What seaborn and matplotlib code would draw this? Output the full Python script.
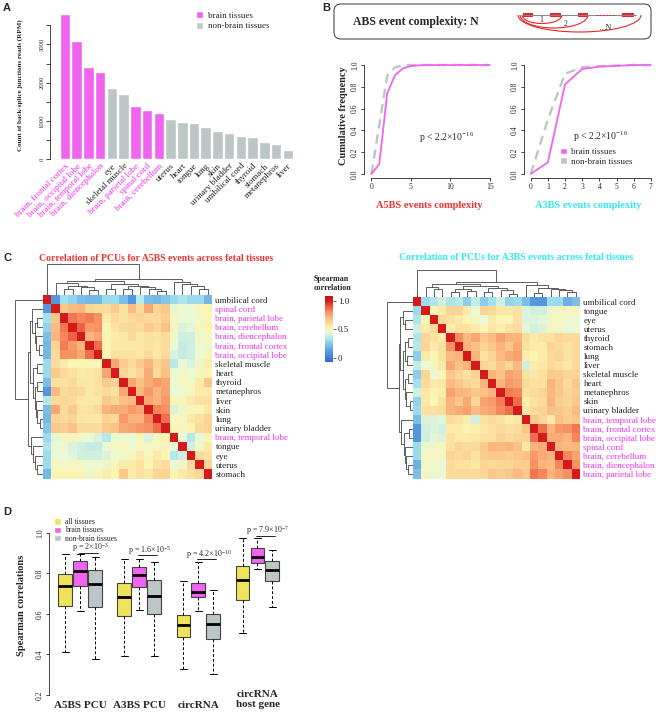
import numpy as np
import pandas as pd
import matplotlib
matplotlib.use("Agg")
import matplotlib.pyplot as plt
import seaborn as sns
from matplotlib.patches import FancyBboxPatch, Rectangle, Arc
from matplotlib.colors import LinearSegmentedColormap

# ---------------- data ----------------
bar_tissues = ["brain, frontal cortex", "brain, occipital lobe", "brain, temporal lobe",
               "brain, diencephalon", "eye", "skeletal muscle", "brain, parietal lobe",
               "spinal cord", "brain, cerebellum", "uterus", "heart", "tongue", "lung", "skin",
               "urinary bladder", "umbilical cord", "thyroid", "stomach", "metanephros", "liver"]
bar_values = [3790, 3095, 2415, 2270, 1870, 1715, 1385, 1295, 1215, 1050,
              985, 940, 850, 750, 680, 615, 575, 450, 390, 250]
bar_groups = (["brain tissues"] * 4 + ["non-brain tissues"] * 2 + ["brain tissues"] * 3
              + ["non-brain tissues"] * 11)

cdf_a5_x = list(range(16))
cdf_a5_brain = [0, 0.092, 0.74, 0.908, 0.969, 0.99, 0.997, 1, 1, 1, 1, 1, 1, 1, 1, 1]
cdf_a5_nonbrain = [0, 0.45, 0.90, 0.98, 0.995, 1, 1, 1, 1, 1, 1, 1, 1, 1, 1, 1]
cdf_a3_x = list(range(8))
cdf_a3_brain = [0, 0.107, 0.823, 0.963, 0.985, 0.992, 1, 1]
cdf_a3_nonbrain = [0, 0.50, 0.92, 0.98, 0.99, 0.995, 1, 1]

hm5_labels = ["umbilical cord", "spinal cord", "brain, parietal lobe", "brain, cerebellum",
              "brain, diencephalon", "brain, frontal cortex", "brain, occipital lobe",
              "skeletal muscle", "heart", "thyroid", "metanephros", "liver", "skin", "lung",
              "urinary bladder", "brain, temporal lobe", "tongue", "eye", "uterus", "stomach"]
hm5_upper = [
    [0.10, 0.32, 0.28, 0.22, 0.20, 0.20, 0.30, 0.30, 0.22, 0.10, 0.36, 0.22, 0.20, 0.24, 0.30, 0.34, 0.30, 0.30, 0.20],
    [0.66, 0.70, 0.72, 0.62, 0.60, 0.60, 0.65, 0.58, 0.70, 0.60, 0.75, 0.62, 0.66, 0.44, 0.46, 0.45, 0.50, 0.52],
    [0.85, 0.82, 0.84, 0.80, 0.55, 0.60, 0.58, 0.60, 0.62, 0.60, 0.60, 0.64, 0.50, 0.46, 0.45, 0.48, 0.52],
    [0.88, 0.78, 0.80, 0.52, 0.58, 0.60, 0.62, 0.60, 0.65, 0.62, 0.68, 0.50, 0.42, 0.44, 0.50, 0.52],
    [0.72, 0.75, 0.52, 0.55, 0.56, 0.60, 0.56, 0.58, 0.57, 0.60, 0.48, 0.40, 0.40, 0.48, 0.50],
    [0.86, 0.52, 0.56, 0.56, 0.56, 0.56, 0.58, 0.56, 0.60, 0.45, 0.38, 0.40, 0.46, 0.48],
    [0.52, 0.58, 0.58, 0.58, 0.56, 0.60, 0.56, 0.60, 0.42, 0.38, 0.40, 0.46, 0.50],
    [0.75, 0.65, 0.60, 0.65, 0.72, 0.62, 0.66, 0.36, 0.46, 0.42, 0.48, 0.54],
    [0.62, 0.58, 0.62, 0.74, 0.60, 0.68, 0.46, 0.48, 0.46, 0.50, 0.52],
    [0.75, 0.68, 0.74, 0.78, 0.75, 0.46, 0.50, 0.48, 0.55, 0.66],
    [0.70, 0.78, 0.72, 0.76, 0.45, 0.46, 0.50, 0.55, 0.55],
    [0.75, 0.72, 0.78, 0.52, 0.50, 0.55, 0.58, 0.58],
    [0.82, 0.80, 0.42, 0.48, 0.50, 0.52, 0.56],
    [0.86, 0.50, 0.50, 0.55, 0.58, 0.62],
    [0.52, 0.50, 0.52, 0.60, 0.62],
    [0.45, 0.35, 0.45, 0.52],
    [0.40, 0.48, 0.55],
    [0.60, 0.58],
    [0.62],
]
hm5_tree = [1.0, 0, [0.52, [0.45, [0.38, 1, [0.30, [0.20, 2, 3], [0.25, 4, [0.15, 5, 6]]]],
                            [0.36, [0.20, 7, 8], [0.30, [0.20, 9, 10], [0.25, 11, [0.20, 12, [0.12, 13, 14]]]]]],
                     [0.42, 15, [0.35, 16, [0.30, 17, [0.20, 18, 19]]]]]]

hm3_labels = ["umbilical cord", "tongue", "eye", "uterus", "thyroid", "stomach", "lung", "liver",
              "skeletal muscle", "heart", "metanephros", "skin", "urinary bladder",
              "brain, temporal lobe", "brain, frontal cortex", "brain, occipital lobe",
              "spinal cord", "brain, cerebellum", "brain, diencephalon", "brain, parietal lobe"]
hm3_upper = [
    [0.30, 0.34, 0.40, 0.34, 0.36, 0.26, 0.38, 0.26, 0.32, 0.40, 0.28, 0.30, 0.22, 0.10, 0.10, 0.30, 0.30, 0.18, 0.22],
    [0.52, 0.55, 0.62, 0.62, 0.55, 0.45, 0.62, 0.60, 0.56, 0.56, 0.58, 0.42, 0.40, 0.40, 0.46, 0.50, 0.48, 0.50],
    [0.60, 0.58, 0.55, 0.52, 0.50, 0.45, 0.55, 0.52, 0.52, 0.58, 0.42, 0.42, 0.44, 0.48, 0.50, 0.48, 0.46],
    [0.55, 0.58, 0.58, 0.55, 0.52, 0.56, 0.54, 0.58, 0.60, 0.44, 0.40, 0.42, 0.50, 0.48, 0.45, 0.46],
    [0.80, 0.70, 0.75, 0.66, 0.70, 0.76, 0.72, 0.72, 0.60, 0.55, 0.58, 0.58, 0.62, 0.60, 0.60],
    [0.72, 0.68, 0.62, 0.66, 0.72, 0.66, 0.74, 0.58, 0.55, 0.55, 0.62, 0.60, 0.58, 0.60],
    [0.72, 0.58, 0.62, 0.70, 0.74, 0.76, 0.54, 0.52, 0.55, 0.60, 0.62, 0.58, 0.60],
    [0.62, 0.60, 0.66, 0.62, 0.70, 0.40, 0.54, 0.56, 0.60, 0.58, 0.56, 0.60],
    [0.72, 0.68, 0.76, 0.74, 0.58, 0.56, 0.58, 0.65, 0.64, 0.62, 0.62],
    [0.72, 0.78, 0.76, 0.60, 0.58, 0.58, 0.72, 0.66, 0.60, 0.66],
    [0.84, 0.82, 0.58, 0.60, 0.62, 0.70, 0.66, 0.62, 0.64],
    [0.86, 0.54, 0.58, 0.60, 0.72, 0.64, 0.62, 0.66],
    [0.56, 0.60, 0.62, 0.68, 0.66, 0.64, 0.70],
    [0.66, 0.62, 0.56, 0.68, 0.64, 0.66],
    [0.86, 0.72, 0.78, 0.80, 0.85],
    [0.74, 0.74, 0.72, 0.82],
    [0.72, 0.70, 0.72],
    [0.82, 0.76],
    [0.80],
]
hm3_tree = [1.0, 0, [0.55, [0.48, [0.38, 1, [0.30, 2, 3]],
                            [0.40, [0.30, [0.20, 4, 5], [0.22, 6, 7]],
                                   [0.32, [0.20, 8, 9], [0.25, 10, [0.12, 11, 12]]]]],
                     [0.45, 13, [0.35, [0.15, 14, 15], [0.30, 16, [0.25, 17, [0.20, 18, 19]]]]]]]

box_groups = ["A5BS PCU", "A3BS PCU", "circRNA", "circRNA\nhost gene"]
box_sets = ["all tissues", "brain tissues", "non-brain tissues"]
a5bs_all = [0.413, 0.640, 0.737, 0.795, 0.896]
a5bs_brain = [0.615, 0.740, 0.813, 0.863, 0.896]
a5bs_nonbrain = [0.377, 0.636, 0.747, 0.818, 0.879]
a3bs_all = [0.390, 0.592, 0.683, 0.752, 0.870]
a3bs_brain = [0.620, 0.732, 0.792, 0.833, 0.870]
a3bs_nonbrain = [0.390, 0.600, 0.690, 0.769, 0.855]
circ_all = [0.330, 0.484, 0.544, 0.597, 0.765]
circ_brain = [0.615, 0.686, 0.709, 0.754, 0.855]
circ_nonbrain = [0.304, 0.474, 0.552, 0.600, 0.716]
host_all = [0.504, 0.668, 0.769, 0.836, 0.975]
host_brain = [0.823, 0.850, 0.881, 0.926, 0.975]
host_nonbrain = [0.635, 0.765, 0.815, 0.860, 0.916]
p_labels = ["p = 2×10$^{-3}$", "p = 1.6×10$^{-5}$", "p = 4.2×10$^{-10}$", "p = 7.9×10$^{-7}$"]

# ---------------- style ----------------
sns.set_style("ticks")
plt.rcParams["font.family"] = ["Liberation Serif", "DejaVu Serif"]
plt.rcParams["mathtext.fontset"] = "custom"
plt.rcParams["mathtext.rm"] = "Liberation Serif"
plt.rcParams["mathtext.it"] = "Liberation Serif:italic"
plt.rcParams["mathtext.bf"] = "Liberation Serif:bold"
plt.rcParams["axes.linewidth"] = 0.6

W, H = 656, 712
fig = plt.figure(figsize=(W / 100, H / 100), dpi=100)

MAG = "#f064f0"
GRY = "#bcc6c6"
YEL = "#efe35b"
LBLMAG = "#ee33ee"
RED = "#f03030"
CYA = "#33e8f0"


def px(x0, y0, x1, y1):
    return [x0 / W, 1 - y1 / H, (x1 - x0) / W, (y1 - y0) / H]


def T(x, y, s, **kw):
    kw.setdefault("ha", "center")
    kw.setdefault("va", "center")
    return fig.text(x / W, 1 - y / H, s, **kw)


def is_brain(name):
    return name.startswith("brain") or name == "spinal cord"


# overlay for decorations (pixel coords)
ov = fig.add_axes([0, 0, 1, 1])
ov.set_xlim(0, W)
ov.set_ylim(H, 0)
ov.axis("off")
ov.patch.set_alpha(0)

# panel labels
for lab, x, y in [("A", 7, 8), ("B", 326, 8), ("C", 7, 258), ("D", 7, 512)]:
    T(x, y, lab, family="Liberation Sans", fontweight="bold", fontsize=8)

# ---------------- Panel A ----------------
axA = fig.add_axes(px(50, 10, 296, 159.3))
sns.barplot(x=bar_tissues, y=bar_values, hue=bar_groups,
            palette={"brain tissues": MAG, "non-brain tissues": GRY},
            dodge=False, width=0.9, saturation=1, legend=False, ax=axA)
axA.set_ylim(0, 3900)
axA.set_xlim(-1.28, 19.7)
for s in ["top", "right", "bottom"]:
    axA.spines[s].set_visible(False)
axA.spines["left"].set_bounds(0, 3500)
yt = list(range(0, 3501, 500))
axA.set_yticks(yt)
axA.set_yticklabels([str(v) if v % 1000 == 0 else "" for v in yt])
axA.tick_params(axis="y", labelsize=4.8, length=3, width=0.6, pad=1)
for t in axA.get_yticklabels():
    t.set_rotation(90)
    t.set_va("center")
axA.set_xticks(range(len(bar_tissues)))
axA.set_xticklabels(bar_tissues, rotation=45, ha="right", rotation_mode="anchor", fontsize=6.5)
axA.tick_params(axis="x", length=0, pad=2)
for t, name in zip(axA.get_xticklabels(), bar_tissues):
    t.set_color(LBLMAG if is_brain(name) else "#222222")
axA.set_ylabel("")
axA.set_xlabel("")
T(20, 85, "Count of back-splice junctions reads (RPM)", rotation=90, fontweight="bold", fontsize=5)
hA = [Rectangle((0, 0), 1, 1, facecolor=MAG), Rectangle((0, 0), 1, 1, facecolor=GRY)]
axA.legend(hA, ["brain tissues", "non-brain tissues"], loc="upper left",
           bbox_to_anchor=(196 / W, 1 - 11 / H), bbox_transform=fig.transFigure,
           frameon=False, fontsize=6.5, handlelength=0.8, handleheight=0.8,
           handletextpad=0.5, labelspacing=0.25, borderpad=0, borderaxespad=0)

# ---------------- Panel B ----------------
ov.add_patch(FancyBboxPatch((334, 4), 317, 35, boxstyle="round,pad=0,rounding_size=7",
                            facecolor="none", edgecolor="#333333", linewidth=0.7))
T(353, 22, "ABS event complexity: N", ha="left", fontweight="bold", fontsize=8.5)
DR = "#e8262a"
ov.plot([522, 636], [15, 15], color="#888888", lw=0.7)
for x0, x1 in [(523, 533), (550, 561), (578, 588), (622, 634)]:
    ov.add_patch(Rectangle((x0, 13.3), x1 - x0, 3.4, facecolor=DR, edgecolor="none"))
ov.plot([596, 616], [15, 15], color=DR, lw=0.8, linestyle=(0, (1.5, 1.5)))
for x0, x1, yb in [(522, 562, 23.5), (520, 588, 28), (518, 641, 32)]:
    ov.add_patch(Arc(((x0 + x1) / 2, 15), x1 - x0, 2 * (yb - 15), theta1=0, theta2=180,
                     color=DR, lw=0.8))
T(541, 19.5, "1", fontsize=5.5)
T(566, 24, "2", fontsize=5.5)
T(605, 28, "…N", fontsize=5.5)

axL = fig.add_axes(px(364, 60, 500, 178))
axR = fig.add_axes(px(524, 60, 656, 178))
sns.lineplot(x=cdf_a5_x, y=cdf_a5_nonbrain, ax=axL, color=GRY, lw=1.7, linestyle=(0, (4, 2.5)))
sns.lineplot(x=cdf_a5_x, y=cdf_a5_brain, ax=axL, color=MAG, lw=1.3)
sns.lineplot(x=cdf_a3_x, y=cdf_a3_nonbrain, ax=axR, color=GRY, lw=1.7, linestyle=(0, (4, 2.5)))
sns.lineplot(x=cdf_a3_x, y=cdf_a3_brain, ax=axR, color=MAG, lw=1.3)
axL.set_xlim(-0.94, 16.3)
axR.set_xlim(-0.39, 7.3)
for ax, xt in [(axL, [0, 5, 10, 15]), (axR, list(range(8)))]:
    ax.set_ylim(-0.037, 1.046)
    for s in ["top", "right"]:
        ax.spines[s].set_visible(False)
    ax.spines["left"].set_bounds(0, 1)
    ax.spines["bottom"].set_bounds(xt[0], xt[-1])
    ax.set_xticks(xt)
    ax.set_yticks([0, 0.2, 0.4, 0.6, 0.8, 1.0])
    ax.set_yticklabels(["0.0", "0.2", "0.4", "0.6", "0.8", "1.0"])
    ax.tick_params(labelsize=5.5, length=2.5, width=0.6, pad=1)
    for t in ax.get_yticklabels():
        t.set_rotation(90)
        t.set_va("center")
    ax.set_xlabel("")
    ax.set_ylabel("")
axL.text(9.55, 0.333, "p < 2.2×10$^{-16}$", ha="center", va="center", fontsize=7)
axR.text(4.1, 0.342, "p < 2.2×10$^{-16}$", ha="center", va="center", fontsize=7)
hB = [Rectangle((0, 0), 1, 1, facecolor=MAG), Rectangle((0, 0), 1, 1, facecolor=GRY)]
axR.legend(hB, ["brain tissues", "non-brain tissues"], loc="upper left",
           bbox_to_anchor=(560 / W, 1 - 147.5 / H), bbox_transform=fig.transFigure,
           frameon=False, fontsize=6.5, handlelength=0.8, handleheight=0.8,
           handletextpad=0.4, labelspacing=0.12, borderpad=0, borderaxespad=0)
T(343, 116, "Cumulative frequency", rotation=90, fontweight="bold", fontsize=7.5)
T(429, 205, "A5BS events complexity", color=RED, fontweight="bold", fontsize=7.5)
T(588, 205, "A3BS events complexity", color=CYA, fontweight="bold", fontsize=7.5)

# ---------------- Panel C ----------------
VMIN, VMAX = -0.07, 1.08
stops = [(-0.07, "#2d69d4"), (0.15, "#62a6e0"), (0.32, "#a4e2ee"), (0.45, "#eaf8d6"),
         (0.52, "#fbf4b2"), (0.62, "#fbd596"), (0.72, "#fab47c"), (0.82, "#f6895c"),
         (0.92, "#e64a3a"), (1.0, "#d41a1a"), (1.08, "#c81216")]
cmap = LinearSegmentedColormap.from_list(
    "spear", [((v - VMIN) / (VMAX - VMIN), c) for v, c in stops])


def sym(upper):
    n = len(upper) + 1
    M = np.eye(n)
    for i, row in enumerate(upper):
        for k, v in enumerate(row):
            j = i + 1 + k
            M[i, j] = M[j, i] = v
    return M


def dendro(node):
    if isinstance(node, int):
        return node + 0.5, 0.0, []
    h, l, r = node
    pl, hl, sl = dendro(l)
    pr, hr, sr = dendro(r)
    return (pl + pr) / 2, h, sl + sr + [([pl, pl, pr, pr], [hl, h, h, hr])]


def draw_heatmap(hm_box, row_box, col_box, upper, labels, tree, cax=None):
    ax = fig.add_axes(px(*hm_box))
    M = sym(upper)
    kw = dict(cmap=cmap, vmin=VMIN, vmax=VMAX, xticklabels=False, yticklabels=labels)
    if cax is not None:
        sns.heatmap(M, ax=ax, cbar_ax=cax, cbar_kws={"ticks": [0, 0.5, 1.0]}, **kw)
    else:
        sns.heatmap(M, ax=ax, cbar=False, **kw)
    ax.yaxis.tick_right()
    ax.tick_params(axis="y", length=0, pad=2.5, labelsize=6.5)
    for t, name in zip(ax.get_yticklabels(), labels):
        t.set_rotation(0)
        t.set_color(LBLMAG if is_brain(name) else "#222222")
    n = len(labels)
    _, _, segs = dendro(tree)
    axr = fig.add_axes(px(*row_box))
    axc = fig.add_axes(px(*col_box))
    for xs, hs in segs:
        axr.plot(hs, xs, color="#444444", lw=0.6, solid_joinstyle="miter")
        axc.plot(xs, hs, color="#444444", lw=0.6, solid_joinstyle="miter")
    axr.set_ylim(n, 0)
    axr.set_xlim(1.07, 0)
    axc.set_xlim(0, n)
    axc.set_ylim(0, 1.04)
    for a in (axr, axc):
        a.axis("off")
    return ax


cax = fig.add_axes(px(325, 296, 333, 362))
draw_heatmap((43, 295, 212, 478.5), (13, 295, 43, 478.5), (43, 263, 212, 295),
             hm5_upper, hm5_labels, hm5_tree, cax=cax)
draw_heatmap((413, 297, 580, 478.5), (385, 297, 413, 478.5), (413, 269, 580, 297),
             hm3_upper, hm3_labels, hm3_tree)
cax.set_yticklabels(["0", "0.5", "1.0"])
cax.tick_params(labelsize=6.5, length=2, width=0.5, pad=1.5)
for sp in cax.spines.values():
    sp.set_visible(False)
T(156, 258, "Correlation of PCUs for A5BS events across fetal tissues", color=RED,
  fontweight="bold", fontsize=7)
T(516, 257, "Correlation of PCUs for A3BS events across fetal tissues", color=CYA,
  fontweight="bold", fontsize=7)
T(314, 283.5, "Spearman\ncorrelation", ha="left", fontweight="bold", fontsize=5.8, linespacing=1.3)

# ---------------- Panel D ----------------
rows = []
sets_by_group = [[a5bs_all, a5bs_brain, a5bs_nonbrain], [a3bs_all, a3bs_brain, a3bs_nonbrain],
                 [circ_all, circ_brain, circ_nonbrain], [host_all, host_brain, host_nonbrain]]
for g, sets in zip(box_groups, sets_by_group):
    for s, vals in zip(box_sets, sets):
        for v in vals:
            rows.append((g, s, v))
dfD = pd.DataFrame(rows, columns=["group", "set", "value"])
axD = fig.add_axes(px(49, 505, 300, 700))
sns.boxplot(data=dfD, x="group", y="value", hue="set", order=box_groups, hue_order=box_sets,
            palette={"all tissues": YEL, "brain tissues": MAG, "non-brain tissues": GRY},
            saturation=1, width=0.76, gap=0.07, whis=(0, 100), linecolor="#444444",
            linewidth=0.8, legend=False, ax=axD,
            medianprops=dict(color="black", linewidth=2.0),
            whiskerprops=dict(color="black", linestyle=(0, (3, 2)), linewidth=0.7),
            capprops=dict(color="black", linewidth=0.7))
axD.set_xlim(-0.53, 3.72)
axD.set_ylim(0.175, 1.138)
for s in ["top", "right", "bottom"]:
    axD.spines[s].set_visible(False)
axD.spines["left"].set_bounds(0.2, 1.0)
axD.set_yticks([0.2, 0.4, 0.6, 0.8, 1.0])
axD.set_yticklabels(["0.2", "0.4", "0.6", "0.8", "1.0"])
axD.tick_params(axis="y", labelsize=5.5, length=2.5, width=0.6, pad=1)
for t in axD.get_yticklabels():
    t.set_rotation(90)
    t.set_va("center")
axD.set_xticks([])
axD.set_xlabel("")
axD.set_ylabel("")
p_text_y = [0.926, 0.913, 0.895, 1.010]
p_line_y = [0.903, 0.890, 0.870, 0.987]
for i, (lab, ty, ly) in enumerate(zip(p_labels, p_text_y, p_line_y)):
    axD.text(i + 0.17, ty, lab, ha="center", va="center", fontsize=5.8)
    axD.plot([i - 0.02, i + 0.3], [ly, ly], color="black", lw=0.6)
for i, lab in enumerate(box_groups):
    yy = 699.5 if "\n" in lab else 706
    fig.text((80.3 + 59.1 * i) / W, 1 - yy / H, lab, ha="center", va="center",
             fontweight="bold", fontsize=8, linespacing=1.25)
T(22, 605, "Spearman correlations", rotation=90, fontweight="bold", fontsize=7.5)
hD = [Rectangle((0, 0), 1, 1, facecolor=c) for c in (YEL, MAG, GRY)]
axD.legend(hD, box_sets, loc="upper left", bbox_to_anchor=(54 / W, 1 - 518 / H),
           bbox_transform=fig.transFigure, frameon=False, fontsize=5.5, handlelength=0.9,
           handleheight=0.9, handletextpad=0.5, labelspacing=0.05, borderpad=0, borderaxespad=0)

fig.savefig("out.png", dpi=100)
